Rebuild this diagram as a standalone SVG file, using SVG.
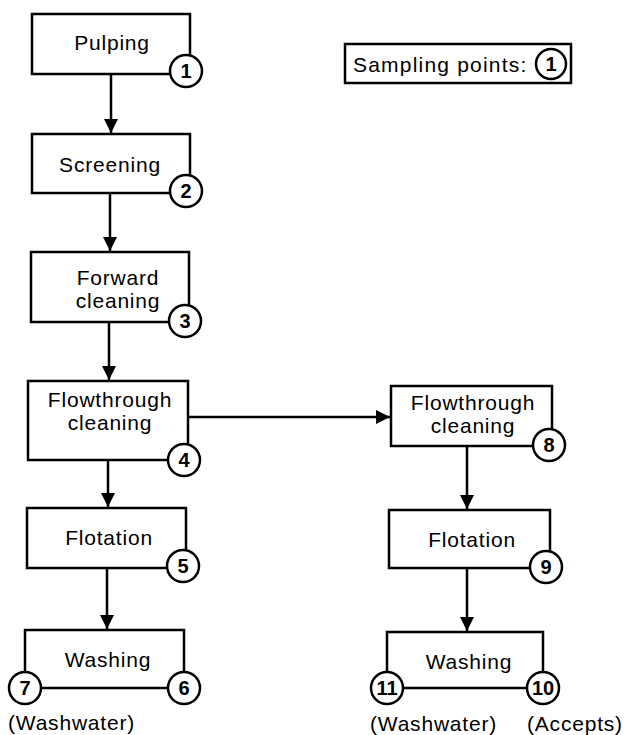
<svg xmlns="http://www.w3.org/2000/svg" width="626" height="735" viewBox="0 0 626 735">
<style>
.box{fill:#fff;stroke:#000;stroke-width:2.5}
.ln{fill:none;stroke:#000;stroke-width:2.5}
.c{fill:#fff;stroke:#000;stroke-width:2.5}
.t{font-family:"Liberation Sans",Arial,sans-serif;font-size:21px;letter-spacing:0.8px;fill:#000;text-anchor:middle}
.tl{font-family:"Liberation Sans",Arial,sans-serif;font-size:21px;letter-spacing:0.8px;fill:#000}
.n{font-family:"Liberation Sans",Arial,sans-serif;font-size:20px;font-weight:bold;fill:#000;text-anchor:middle}
</style>
<defs>
<marker id="ah" markerWidth="15" markerHeight="14" refX="14" refY="7" orient="auto" markerUnits="userSpaceOnUse">
<path d="M0,0 L14,7 L0,14 Z" fill="#000"/>
</marker>
</defs>
<rect width="626" height="735" fill="#fff"/>
<g id="connectors">
<line class="ln" x1="111" y1="74" x2="111" y2="133" marker-end="url(#ah)"/>
<line class="ln" x1="110" y1="193" x2="110" y2="251" marker-end="url(#ah)"/>
<line class="ln" x1="109" y1="322" x2="109" y2="380" marker-end="url(#ah)"/>
<line class="ln" x1="108" y1="460" x2="108" y2="507" marker-end="url(#ah)"/>
<line class="ln" x1="107" y1="568" x2="107" y2="629" marker-end="url(#ah)"/>
<line class="ln" x1="188" y1="417" x2="390" y2="417" marker-end="url(#ah)"/>
<line class="ln" x1="467" y1="446" x2="467" y2="509" marker-end="url(#ah)"/>
<line class="ln" x1="467" y1="568" x2="467" y2="631" marker-end="url(#ah)"/>
</g>
<g id="legend">
<rect class="box" x="345" y="44" width="226" height="39"/>
<text class="tl" x="353" y="72" style="letter-spacing:1.2px">Sampling points:</text>
<circle class="c" cx="551" cy="64" r="15"/>
<text class="n" x="551" y="71">1</text>
</g>
<g id="pulping">
<rect class="box" x="32" y="14" width="158" height="60"/>
<text class="t" x="112" y="50">Pulping</text>
<circle class="c" cx="186" cy="71" r="16"/>
<text class="n" x="186" y="78">1</text>
</g>
<g id="screening">
<rect class="box" x="32" y="134" width="158" height="59"/>
<text class="t" x="110" y="172">Screening</text>
<circle class="c" cx="186" cy="191" r="16"/>
<text class="n" x="186" y="198">2</text>
</g>
<g id="forward-cleaning">
<rect class="box" x="31" y="252" width="158" height="70"/>
<text class="t" x="118" y="285">Forward</text>
<text class="t" x="118" y="308">cleaning</text>
<circle class="c" cx="185" cy="321" r="16"/>
<text class="n" x="185" y="328">3</text>
</g>
<g id="flowthrough-cleaning-1">
<rect class="box" x="28" y="381" width="160" height="79"/>
<text class="t" x="110" y="407">Flowthrough</text>
<text class="t" x="110" y="430">cleaning</text>
<circle class="c" cx="184" cy="460" r="16"/>
<text class="n" x="184" y="467">4</text>
</g>
<g id="flotation-1">
<rect class="box" x="27" y="508" width="159" height="60"/>
<text class="t" x="109" y="545">Flotation</text>
<circle class="c" cx="183" cy="566" r="16"/>
<text class="n" x="183" y="573">5</text>
</g>
<g id="washing-1">
<path class="ln" d="M25,672 V630 H184 V672 M41,688 H167"/>
<text class="t" x="108" y="667">Washing</text>
<circle class="c" cx="25" cy="688" r="16"/>
<text class="n" x="25" y="695">7</text>
<circle class="c" cx="184" cy="688" r="16"/>
<text class="n" x="184" y="695">6</text>
<text class="tl" x="8" y="730">(Washwater)</text>
</g>
<g id="flowthrough-cleaning-2">
<rect class="box" x="391" y="386" width="161" height="60"/>
<text class="t" x="473" y="410">Flowthrough</text>
<text class="t" x="473" y="433">cleaning</text>
<circle class="c" cx="549" cy="445" r="16"/>
<text class="n" x="549" y="452">8</text>
</g>
<g id="flotation-2">
<rect class="box" x="389" y="510" width="161" height="58"/>
<text class="t" x="472" y="547">Flotation</text>
<circle class="c" cx="546" cy="567" r="16"/>
<text class="n" x="546" y="574">9</text>
</g>
<g id="washing-2">
<path class="ln" d="M387,672 V632 H543 V672 M403,688 H527"/>
<text class="t" x="469" y="669">Washing</text>
<circle class="c" cx="387" cy="688" r="16"/>
<text class="n" x="387" y="695">11</text>
<circle class="c" cx="543" cy="688" r="16"/>
<text class="n" x="543" y="695">10</text>
<text class="tl" x="370" y="731">(Washwater)</text>
<text class="tl" x="527" y="731">(Accepts)</text>
</g>
</svg>
